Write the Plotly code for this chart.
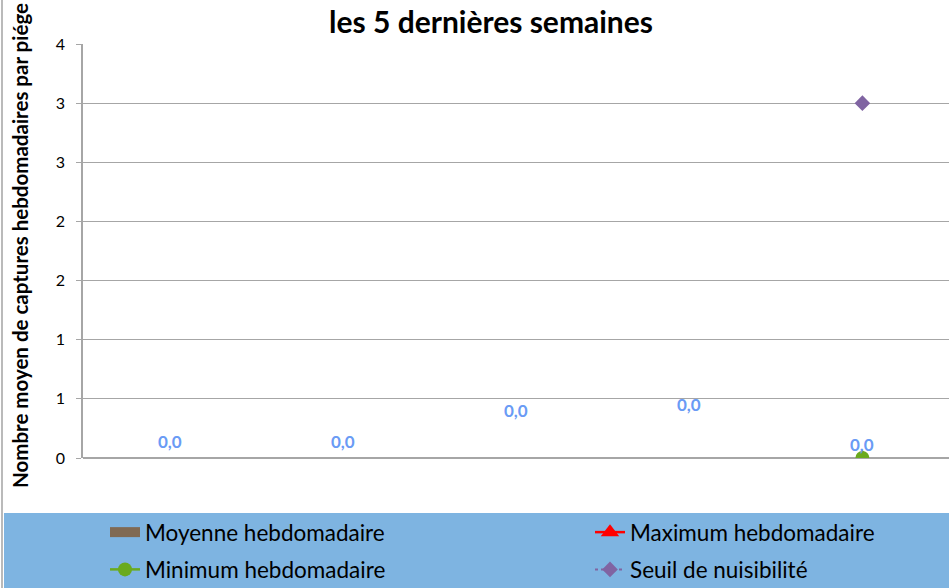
import plotly.graph_objects as go

# Weekly trap captures over the last five weeks
weeks = ["S1", "S2", "S3", "S4", "S5"]
moyenne = [0.0, 0.0, 0.0, 0.0, 0.0]
maximum = [None, None, None, None, 0.0]
minimum = [None, None, None, None, 0.0]
seuil = [None, None, None, None, 3.0]
label_shift = [17, 17, 48, 54, 14]  # vertical offset (px) of the mean labels

y_ticks = [0, 0.5, 1, 1.5, 2, 2.5, 3, 3.5]
y_ticktext = ["0", "1", "1", "2", "2", "3", "3", "4"]

W, H = 949, 588
L, R, T, B = 83, 0, 44, 130
pw, ph = W - L - R, H - T - B


def px(x):
    return (x - L) / pw


def py(y):
    return (H - B - y) / ph


FONT = "Lato"
BROWN = "#806A53"

fig = go.Figure()

fig.add_trace(go.Bar(
    x=weeks, y=moyenne, name="Moyenne hebdomadaire",
    marker=dict(color=BROWN, line=dict(width=0)),
    showlegend=False,
))
# legend entry for the weekly mean (wide swatch)
fig.add_trace(go.Scatter(
    x=[None], y=[None], name="Moyenne hebdomadaire", mode="lines",
    line=dict(color=BROWN, width=10),
    legend="legend", legendgroup="a",
))
fig.add_trace(go.Scatter(
    x=weeks, y=maximum, name="Maximum hebdomadaire", mode="lines+markers",
    line=dict(color="#FF0000", width=2.5),
    marker=dict(symbol="triangle-up", size=16, color="#FF0000"),
    legend="legend2", legendgroup="b",
))
fig.add_trace(go.Scatter(
    x=weeks, y=minimum, name="Minimum hebdomadaire", mode="lines+markers",
    line=dict(color="#6AAA1E", width=2.5),
    marker=dict(symbol="circle", size=14, color="#6AAA1E"),
    legend="legend", legendgroup="c",
))
fig.add_trace(go.Scatter(
    x=weeks, y=seuil, name="Seuil de nuisibilité", mode="lines+markers",
    line=dict(color="#8064A2", width=2, dash="dot"),
    marker=dict(symbol="diamond", size=12, color="#8064A2"),
    legend="legend2", legendgroup="d",
))

# value labels for the weekly mean
for w, v, s in zip(weeks, moyenne, label_shift):
    fig.add_annotation(
        x=w, y=v, yshift=s, text=f"{v:.1f}".replace(".", ","),
        showarrow=False, font=dict(family=FONT, size=17, color="#6A9BF5", weight="bold"),
    )

# chart title
fig.add_annotation(
    x=px(491), y=py(21), xref="paper", yref="paper", xanchor="center", yanchor="middle",
    text="<b>les 5 dernières semaines</b>", showarrow=False,
    font=dict(family=FONT, size=30, color="#000000"),
)
# y axis title
fig.add_annotation(
    x=px(20), y=py(246), xref="paper", yref="paper", xanchor="center", yanchor="middle",
    text="<b>Nombre moyen de captures hebdomadaires par piége</b>", showarrow=False,
    textangle=-90, font=dict(family=FONT, size=20.5, color="#000000"),
)

# legend band and outer border
fig.add_shape(type="rect", xref="paper", yref="paper",
              x0=px(4), x1=px(952), y0=py(513), y1=py(590),
              fillcolor="#7EB4E1", line=dict(width=0), layer="below")
fig.add_shape(type="line", xref="paper", yref="paper",
              x0=px(2), x1=px(2), y0=py(0), y1=py(588),
              line=dict(color="#8C8C8C", width=1.2))

legend_common = dict(
    orientation="v", bgcolor="rgba(0,0,0,0)", borderwidth=0,
    font=dict(family=FONT, size=22.5, color="#000000"),
    xanchor="left", yanchor="top", tracegroupgap=5, itemwidth=30,
)

fig.update_layout(
    width=W, height=H,
    margin=dict(l=L, r=R, t=T, b=B, pad=0, autoexpand=False),
    paper_bgcolor="#FFFFFF", plot_bgcolor="#FFFFFF",
    bargap=0.5,
    showlegend=True,
    legend=dict(x=px(105), y=py(511), **legend_common),
    legend2=dict(x=px(590), y=py(511), **legend_common),
    xaxis=dict(range=[-0.5, 4.5], showticklabels=False, ticks="", showgrid=False,
               zeroline=False, showline=False, fixedrange=True),
    yaxis=dict(range=[0, 3.5], tickvals=y_ticks, ticktext=y_ticktext,
               showgrid=True, gridcolor="#A6A6A6", gridwidth=1,
               zeroline=True, zerolinecolor="#A6A6A6", zerolinewidth=1.5,
               showline=True, linecolor="#A6A6A6", linewidth=1.5,
               ticks="outside", ticklen=5, tickcolor="#A6A6A6",
               tickfont=dict(family=FONT, size=16, color="#000000"),
               ticklabelstandoff=8, fixedrange=True),
)

fig.write_html("out.html")
